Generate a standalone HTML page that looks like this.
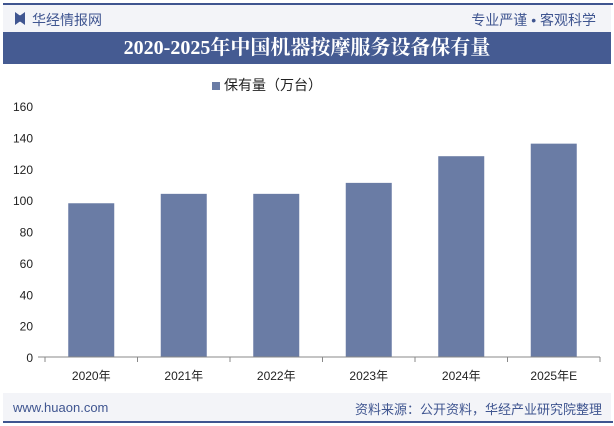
<!DOCTYPE html>
<html><head><meta charset="utf-8"><style>
body{margin:0;width:614px;height:426px;overflow:hidden;background:#fff;font-family:"Liberation Sans","Noto Sans CJK SC",sans-serif;position:relative}
div{position:absolute}
</style></head><body>
<div style="left:3px;top:3px;width:610px;height:2px;background:#3f5590"></div>
<div style="left:3px;top:5px;width:608px;height:27px;background:#f3f4f8"></div>
<div style="left:15px;top:12px;width:10px;height:13px;background:#3f5590;clip-path:polygon(0 0,45% 25%,55% 25%,100% 0,100% 100%,55% 75%,45% 75%,0 100%)"></div>
<div style="left:32px;top:10px;font-size:14px;color:#3f5590">华经情报网</div>
<div style="right:18px;top:10px;font-size:14px;color:#3f5590">专业严谨 • 客观科学</div>
<div style="left:3px;top:32px;width:608px;height:32px;background:#455b92;color:#fff;font-family:'Liberation Serif','Noto Serif CJK SC',serif;font-weight:bold;font-size:20px;text-align:center;line-height:32px">2020-2025年中国机器按摩服务设备保有量</div>
<div style="left:212px;top:75px;font-size:14px;color:#222"><span style="display:inline-block;width:8px;height:8px;background:#6a7ca5;margin-right:4px"></span>保有量（万台）</div>
<svg width="614" height="426" style="position:absolute;left:0;top:0" id="c"></svg>
<div style="left:3px;top:393px;width:608px;height:28px;background:#f3f4f8"></div>
<div style="left:13px;top:400px;font-size:13px;color:#3f5590">www.huaon.com</div>
<div style="right:12px;top:399px;font-size:13px;color:#3f5590">资料来源：公开资料，华经产业研究院整理</div>
<div style="left:3px;top:421px;width:610px;height:2px;background:#3f5590"></div>
<script>
const categories=["2020年","2021年","2022年","2023年","2024年","2025年E"];
const values=[98,104,104,111,128,136];
const yTicks=[0,20,40,60,80,100,120,140,160];
const svg=document.getElementById('c');const NS="http://www.w3.org/2000/svg";
const x0=45,x1=600,y0=357,y1=106,ymax=160;
const band=(x1-x0)/categories.length;
const Y=v=>y0-(v/ymax)*(y0-y1);
function mk(t,a){const e=document.createElementNS(NS,t);for(const k in a)e.setAttribute(k,a[k]);svg.appendChild(e);return e;}
yTicks.forEach(v=>{const t=mk('text',{x:33,y:Y(v)+5,'text-anchor':'end','font-size':12,fill:'#222'});t.textContent=v;

});
values.forEach((v,i)=>{const cx=x0+band*(i+0.5);const r=mk('rect',{x:cx-23,y:Y(v),width:46,height:y0-Y(v),fill:'#6a7ca5'});


const t=mk('text',{x:cx,y:380,'text-anchor':'middle','font-size':12,fill:'#222'});t.textContent=categories[i];

});
const ax=mk('line',{x1:38,x2:x1,y1:y0,y2:y0,stroke:'#888'});


for(let i=0;i<=categories.length;i++){const tk=mk('line',{x1:x0+band*i,x2:x0+band*i,y1:y0,y2:y0+5,stroke:'#888'});

}
</script>
</body></html>
